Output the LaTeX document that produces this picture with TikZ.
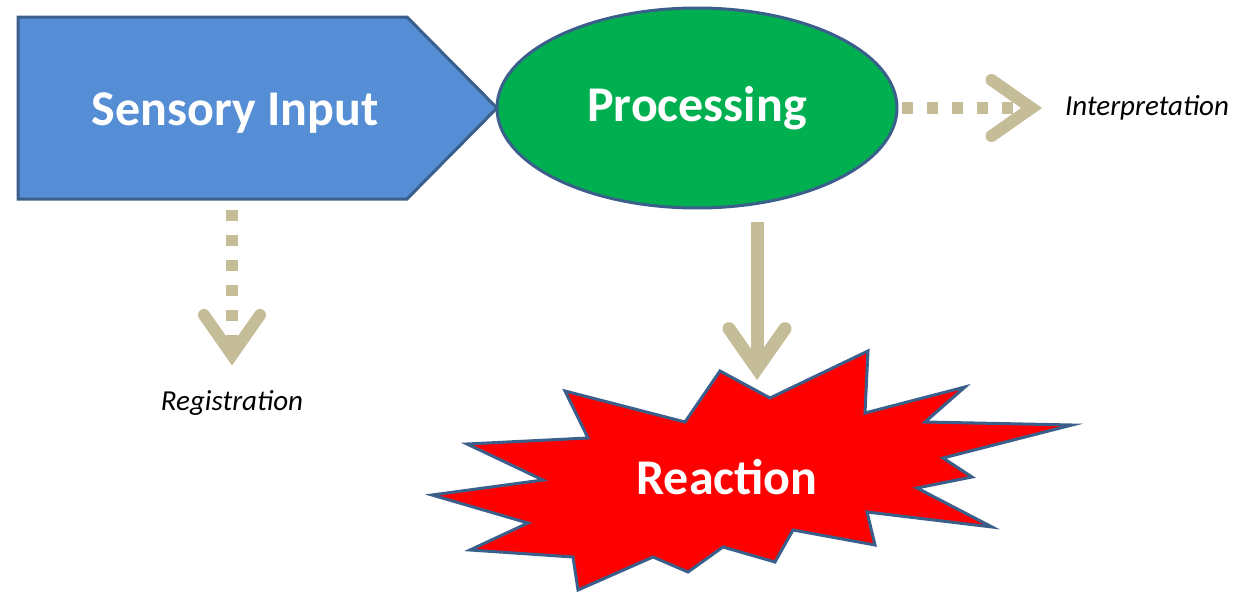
\documentclass[tikz,border=0pt]{standalone}
\usepackage{fontspec}
\setmainfont{Carlito}
\usetikzlibrary{arrows.meta,shapes.geometric,positioning}

\definecolor{inblue}{HTML}{558ED5}
\definecolor{outline}{HTML}{3A5F8B}
\definecolor{procgreen}{HTML}{00B050}
\definecolor{tan}{HTML}{C4BD97}

\begin{document}
\begin{tikzpicture}[x=0.5pt,y=-0.5pt,
  box/.style={draw=outline,line width=1.5pt,line join=miter,text=white,font=\fontsize{25}{30}\selectfont\bfseries},
  tag/.style={font=\fontsize{14.5}{17}\selectfont\itshape},
  flow/.style={color=tan,line width=6.5pt,-{Straight Barb[length=20pt,width=28pt,line cap=round,line join=miter]}},
  dotflow/.style={flow,line width=6pt,dash pattern=on 5.5pt off 7pt}]
  \useasboundingbox (0,0) rectangle (1255,594);

  \draw [box,fill=inblue] (18,17) -- (407,17) -- (497,108) -- (407,199) -- (18,199) -- cycle;
  \node [box,draw=none] (input) at (235,113) {Sensory Input};
  \coordinate (inbase) at (232,199);
  \node [box,ellipse,fill=procgreen,minimum width=200pt,minimum height=100pt] (proc) at (697,108) {Processing};
  \node [tag,anchor=west] (interp) at (1058,108) {Interpretation};
  \node [tag] (reg) at (232,403) {Registration};

  \draw [box,fill=red]
    (720,371) -- (770,398) -- (868,351) -- (865,413) -- (965,387) -- (925,422)
    -- (1072,425) -- (943,458) -- (972,477) -- (917,488) -- (992,527) -- (867,512)
    -- (875,545) -- (793,530) -- (775,562) -- (723,547) -- (688,572) -- (653,557)
    -- (578,590) -- (573,557) -- (470,550) -- (528,523) -- (432,495) -- (543,480)
    -- (467,444) -- (588,438) -- (565,391) -- (685,422) -- cycle;
  \node [box,draw=none] (react) at (727,477) {Reaction};
  \coordinate (hit) at (757,380);

  \path[dotflow] (inbase) edge [shorten <=5.5pt,shorten >=9pt] (reg.north);
  \path[dotflow] (proc.east) edge [shorten <=1.5pt,shorten >=8pt] (interp.west);
  \path[flow] (proc.south -| hit) edge [shorten <=6pt] (hit);

\end{tikzpicture}
\end{document}
